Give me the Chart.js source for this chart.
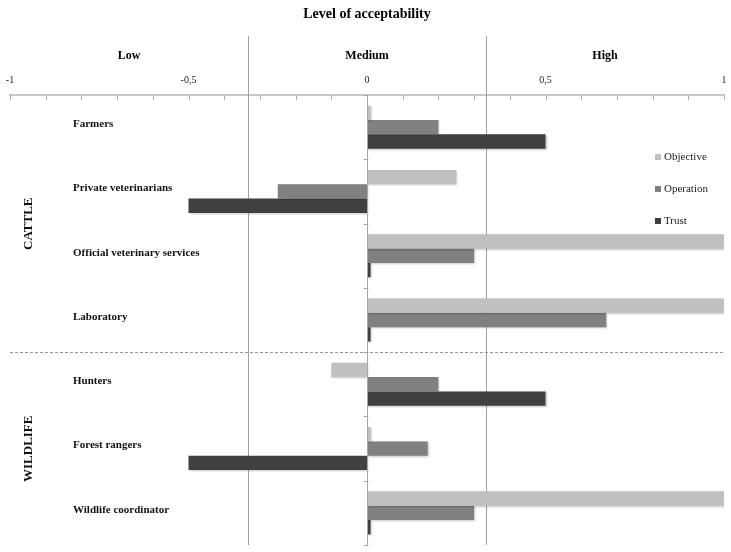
<!DOCTYPE html>
<html>
<head>
<meta charset="utf-8">
<script src="https://cdn.jsdelivr.net/npm/chart.js@4"></script>
<style>
  html, body { margin: 0; padding: 0; background: #fff; }
  #wrap { width: 731px; height: 552px; position: relative; }
</style>
</head>
<body>
<div id="wrap"><canvas id="mainChart"></canvas></div>
<script>
// categories and groups
const actors = ['Farmers', 'Private veterinarians', 'Official veterinary services', 'Laboratory',
                'Hunters', 'Forest rangers', 'Wildlife coordinator'];
const groups = [{ name: 'CATTLE', from: 0, to: 3 }, { name: 'WILDLIFE', from: 4, to: 6 }];

// series values (level of acceptability, -1..1)
const objective = [0.01, 0.25, 1, 1, -0.1, 0.01, 1];
const operation = [0.2, -0.25, 0.3, 0.67, 0.2, 0.17, 0.3];
const trust = [0.5, -0.5, 0.01, 0.01, 0.5, -0.5, 0.01];

const seriesNames = ['Objective', 'Operation', 'Trust'];
const seriesColors = ['#c0c0c0', '#808080', '#404040'];

// level zones
const zoneNames = ['Low', 'Medium', 'High'];
const zoneBounds = [-1, -1 / 3, 1 / 3, 1];
const axisTicks = [-1, -0.5, 0, 0.5, 1];

const serif = "'Liberation Serif', 'DejaVu Serif', serif";

const decorPlugin = {
    id: 'decor',
    beforeDatasetsDraw(chart) {
        const { ctx, chartArea } = chart;
        const x = chart.scales.x;
        ctx.save();
        // zone separators
        ctx.strokeStyle = '#a0a0a0';
        ctx.lineWidth = 1;
        [zoneBounds[1], zoneBounds[2]].forEach(v => {
            const px = Math.round(x.getPixelForValue(v)) + 0.5;
            ctx.beginPath();
            ctx.moveTo(px, 36);
            ctx.lineTo(px, chartArea.bottom);
            ctx.stroke();
        });
        ctx.restore();
        // bar shadow
        ctx.save();
        ctx.shadowColor = 'rgba(0,0,0,0.22)';
        ctx.shadowOffsetX = 1;
        ctx.shadowOffsetY = 1;
        ctx.shadowBlur = 2;
    },
    afterDatasetsDraw(chart) {
        chart.ctx.restore();
    },
    afterDraw(chart) {
        const { ctx, chartArea } = chart;
        const x = chart.scales.x;
        const y = chart.scales.y;
        const x0 = Math.round(x.getPixelForValue(0)) + 0.5;
        ctx.save();

        // title
        ctx.fillStyle = '#000';
        ctx.textAlign = 'center';
        ctx.textBaseline = 'middle';
        ctx.font = 'bold 14px ' + serif;
        ctx.fillText('Level of acceptability', x.getPixelForValue(0), 14);

        // zone names
        ctx.font = 'bold 12px ' + serif;
        zoneNames.forEach((n, i) => {
            const c = (x.getPixelForValue(zoneBounds[i]) + x.getPixelForValue(zoneBounds[i + 1])) / 2;
            ctx.fillText(n, c, 56);
        });

        // minor ticks on top axis
        ctx.strokeStyle = '#b0b0b0';
        ctx.lineWidth = 1;
        for (let i = -10; i <= 10; i++) {
            const px = Math.round(x.getPixelForValue(i / 10)) + 0.5;
            ctx.beginPath();
            ctx.moveTo(px, chartArea.top);
            ctx.lineTo(px, chartArea.top + 5);
            ctx.stroke();
        }

        // vertical axis at zero with category ticks
        ctx.strokeStyle = '#a8a8a8';
        ctx.beginPath();
        ctx.moveTo(x0, chartArea.top);
        ctx.lineTo(x0, chartArea.bottom);
        ctx.stroke();
        for (let i = 0; i <= actors.length; i++) {
            const py = i === actors.length ? chartArea.bottom :
                (i === 0 ? chartArea.top : (y.getPixelForValue(i - 1) + y.getPixelForValue(i)) / 2);
            ctx.beginPath();
            ctx.moveTo(x0 - 4, Math.round(py) + 0.5);
            ctx.lineTo(x0 + 1, Math.round(py) + 0.5);
            ctx.stroke();
        }

        // dashed separator between groups
        const sepY = Math.round((y.getPixelForValue(3) + y.getPixelForValue(4)) / 2) + 0.5;
        ctx.strokeStyle = '#999';
        ctx.setLineDash([3, 2]);
        ctx.beginPath();
        ctx.moveTo(chartArea.left, sepY);
        ctx.lineTo(chartArea.right, sepY);
        ctx.stroke();
        ctx.setLineDash([]);

        // category labels
        ctx.fillStyle = '#111';
        ctx.textAlign = 'left';
        ctx.font = 'bold 11px ' + serif;
        actors.forEach((a, i) => {
            ctx.fillText(a, 73, y.getPixelForValue(i) - 3);
        });

        // group labels
        ctx.font = 'bold 13px ' + serif;
        ctx.textAlign = 'center';
        groups.forEach(g => {
            const top = g.from === 0 ? chartArea.top : sepY;
            const bottom = g.to === actors.length - 1 ? chartArea.bottom : sepY;
            ctx.save();
            ctx.translate(29, (top + bottom) / 2);
            ctx.rotate(-Math.PI / 2);
            ctx.fillText(g.name, 0, 0);
            ctx.restore();
        });

        // legend
        ctx.font = '11px ' + serif;
        ctx.textAlign = 'left';
        seriesNames.forEach((n, i) => {
            const ly = 157 + i * 32;
            ctx.fillStyle = seriesColors[i];
            ctx.fillRect(655, ly - 3, 6, 6);
            ctx.fillStyle = '#222';
            ctx.fillText(n, 664, ly);
        });

        ctx.restore();
    }
};

const ctx = document.getElementById('mainChart').getContext('2d');
new Chart(ctx, {
    type: 'bar',
    data: {
        labels: actors,
        datasets: [objective, operation, trust].map((d, i) => ({
            label: seriesNames[i],
            data: d,
            backgroundColor: seriesColors[i],
            borderWidth: 0,
            barPercentage: 1,
            categoryPercentage: 0.67
        }))
    },
    options: {
        indexAxis: 'y',
        responsive: true,
        maintainAspectRatio: false,
        animation: false,
        layout: { padding: { left: 10, right: 7, top: 0, bottom: 7 } },
        plugins: {
            legend: { display: false },
            tooltip: { enabled: false }
        },
        scales: {
            x: {
                position: 'top',
                min: -1,
                max: 1,
                afterFit: function(scale) {
                    scale.height = 95;
                    scale.paddingLeft = 0;
                    scale.paddingRight = 0;
                },
                afterBuildTicks: function(scale) {
                    scale.ticks = axisTicks.map(v => ({ value: v }));
                },
                ticks: {
                    padding: 9,
                    color: '#222',
                    font: { family: serif, size: 10 },
                    callback: function(value) {
                        return String(value).replace('.', ',');
                    }
                },
                grid: { display: false, drawTicks: false },
                border: { display: true, color: '#c8c8c8', width: 2 }
            },
            y: {
                display: false
            }
        }
    },
    plugins: [decorPlugin]
});
</script>
</body>
</html>
